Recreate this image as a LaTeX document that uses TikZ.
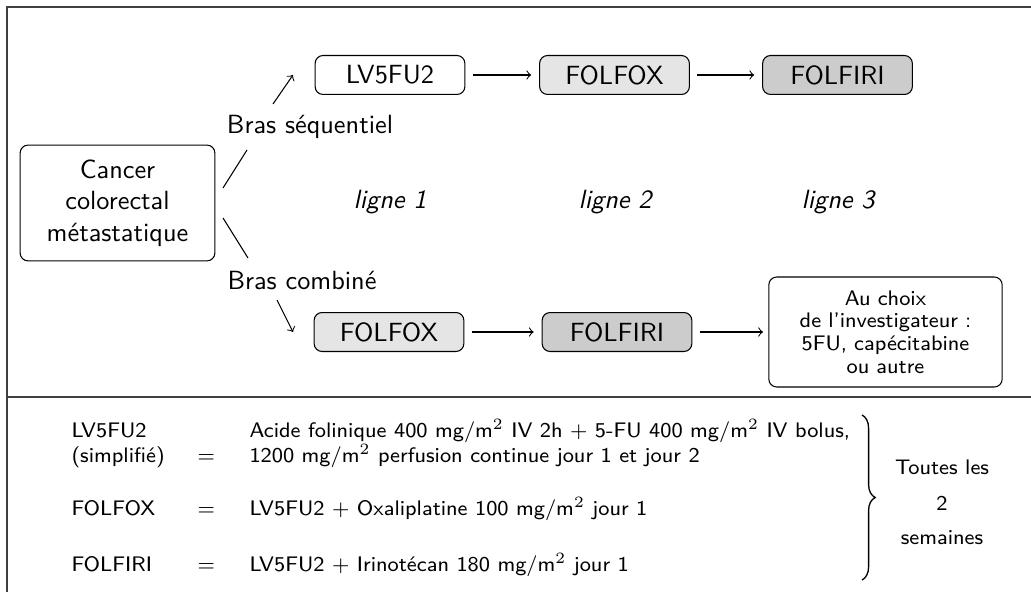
\documentclass[tikz,border=0pt]{standalone}
\usepackage{amsmath,amssymb}
\usetikzlibrary{decorations.pathreplacing}

\begin{document}
\begin{tikzpicture}[
    x=0.38pt, y=-0.38pt,
    every node/.style={font=\sffamily},
    regimen/.style={draw, rounded corners=3pt, minimum width=2cm, minimum height=14.8pt, inner sep=2pt},
    second/.style={regimen, fill=gray!20},
    third/.style={regimen, fill=gray!40},
    lineno/.style={font=\sffamily\itshape},
    legend/.style={font=\sffamily\footnotesize, anchor=base west, inner sep=0pt},
    frame/.style={black!75, line width=0.6pt}
]
\useasboundingbox (0,0) rectangle (1031,592);
% cadre
\draw[frame] (7,592) -- (7,7) -- (1031,7);
\draw[frame] (7,397) -- (1031,397);

\node[draw, rounded corners=3pt, align=center, minimum width=74pt, minimum height=44pt] (cancer) at (117.5,203) {Cancer\\colorectal\\métastatique};

% bras sequentiel
\node[regimen] (lv) at (390,75) {LV5FU2};
\node[second] (fox1) at (614.5,75) {FOLFOX};
\node[third] (firi1) at (837.5,75) {FOLFIRI};
% bras combine
\node[second] (fox2) at (389,332) {FOLFOX};
\node[third] (firi2) at (617,332) {FOLFIRI};
\node[draw, rounded corners=3pt, align=center, text width=82pt, minimum height=41.8pt,
      font=\sffamily\fontsize{8}{8.6}\selectfont] (choix) at (885.5,332)
    {Au choix\\de l'investigateur :\\5FU, capécitabine\\ou autre};

\node[lineno] (l1) at (390,202) {ligne 1};
\node[lineno] (l2) at (615,202) {ligne 2};
\node[lineno] (l3) at (838,202) {ligne 3};

\node (seq) at (310,127) {Bras séquentiel};
\node (comb) at (302,281) {Bras combiné};

\coordinate (seqA) at (223,188);
\coordinate (seqB) at (247,150);
\coordinate (seqC) at (273,104);
\coordinate (seqD) at (293,75);
\coordinate (combA) at (223,218);
\coordinate (combB) at (248,258);
\coordinate (combC) at (277,300);
\coordinate (combD) at (293,332);
\draw (seqA) -- (seqB);
\draw[->] (seqC) -- (seqD);
\draw (combA) -- (combB);
\draw[->] (combC) -- (combD);

\draw[->, shorten <=2.7pt, shorten >=3pt] (lv) -- (fox1);
\draw[->, shorten <=2.7pt, shorten >=3pt] (fox1) -- (firi1);
\draw[->, shorten <=2.7pt, shorten >=3pt] (fox2) -- (firi2);
\draw[->, shorten <=3pt, shorten >=2pt] (firi2) -- (choix);

% legende
\node[legend] (lvname) at (71,437) {LV5FU2};
\node[legend] (lvsimp) at (71,462) {(simplifié)};
\node[legend] (lveq) at (197,462) {$=$};
\node[legend] (lvdefa) at (249,437) {Acide folinique 400 mg/m$^2$ IV 2h $+$ 5-FU 400 mg/m$^2$ IV bolus,};
\node[legend] (lvdefb) at (249,462) {1200 mg/m$^2$ perfusion continue jour 1 et jour 2};
\node[legend] (foxname) at (71,515) {FOLFOX};
\node[legend] (foxeq) at (197,515) {$=$};
\node[legend] (foxdef) at (249,515) {LV5FU2 $+$ Oxaliplatine 100 mg/m$^2$ jour 1};
\node[legend] (firiname) at (71,571) {FOLFIRI};
\node[legend] (firieq) at (197,571) {$=$};
\node[legend] (firidef) at (249,571) {LV5FU2 $+$ Irinotécan 180 mg/m$^2$ jour 1};

\coordinate (braceA) at (862,415);
\coordinate (braceB) at (862,580);
\draw[decorate, decoration={brace, amplitude=5pt}, line width=0.5pt] (braceA) -- (braceB);
\node[font=\sffamily\footnotesize] (every) at (942,467) {Toutes les};
\node[font=\sffamily\footnotesize] (two) at (942,503) {2};
\node[font=\sffamily\footnotesize] (weeks) at (942,538) {semaines};
\end{tikzpicture}
\end{document}
